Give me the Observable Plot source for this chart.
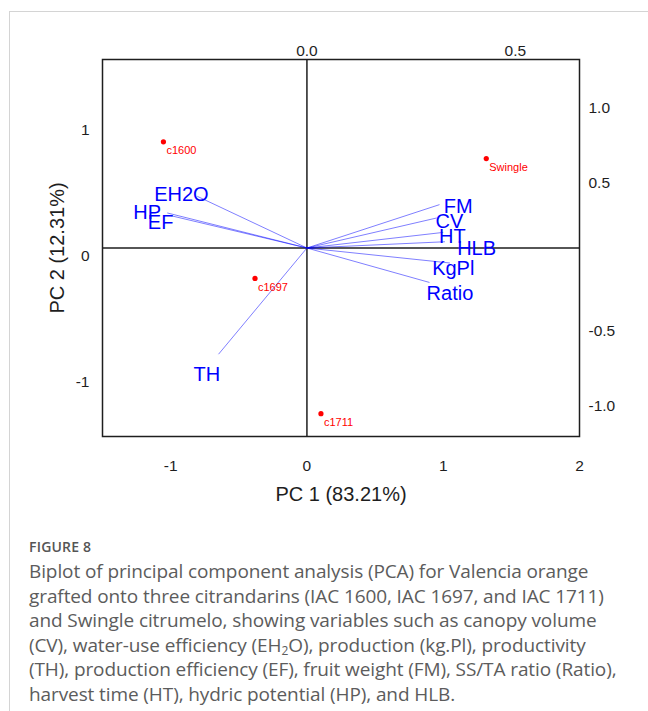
<!DOCTYPE html>
<html>
<head>
<meta charset="utf-8">
<script src="https://cdn.jsdelivr.net/npm/d3@7"></script>
<script src="https://cdn.jsdelivr.net/npm/@observablehq/plot@0.6"></script>
<style>
  html, body { margin: 0; padding: 0; background: #fff; }
  #page { position: relative; width: 648px; height: 711px; overflow: hidden; }
  #panel { position: absolute; left: 9px; top: 11px; right: -2px; bottom: -2px;
           border-left: 1px solid #d4d4d4; border-top: 1px solid #d4d4d4; }
  #chart { position: absolute; left: 0; top: 0; }
  #caption { position: absolute; left: 29px; top: 537px; width: 615px;
             font-family: "Open Sans", "Noto Sans", sans-serif; color: #5c5c5c; }
  #caption .fig { font-size: 14px; font-weight: 600; letter-spacing: 0.2px; line-height: 20px; color: #555; }
  #caption .txt { font-size: 19px; line-height: 24.5px; margin-top: 2px; white-space: nowrap; letter-spacing: -0.1px; }
  #caption sub { font-size: 12px; vertical-align: -3px; line-height: 0; }
</style>
</head>
<body>
<div id="page">
  <div id="panel"></div>
  <div id="chart"></div>
  <div id="caption">
    <div class="fig">FIGURE 8</div>
    <div class="txt">Biplot of principal component analysis (PCA) for Valencia orange<br>grafted onto three citrandarins (IAC 1600, IAC 1697, and IAC 1711)<br>and Swingle citrumelo, showing variables such as canopy volume<br>(CV), water-use efficiency (EH<sub>2</sub>O), production (kg.Pl), productivity<br>(TH), production efficiency (EF), fruit weight (FM), SS/TA ratio (Ratio),<br>harvest time (HT), hydric potential (HP), and HLB.</div>
  </div>
</div>
<script>
// ---- Data ----
const sampleNames = ["c1600", "Swingle", "c1697", "c1711"];
const pc1Scores = [-1.053, 1.316, -0.381, 0.103];
const pc2Scores = [0.845, 0.712, -0.242, -1.318];

const variableNames = ["FM", "CV", "HT", "HLB", "KgPl", "Ratio", "EH2O", "HP", "EF", "TH"];
// arrow tips, in loading units (top / right axes)
const loadingPC1 = [0.318, 0.311, 0.327, 0.331, 0.343, 0.294, -0.263, -0.335, -0.327, -0.212];
const loadingPC2 = [0.292, 0.202, 0.105, 0.042, -0.101, -0.232, 0.348, 0.236, 0.218, -0.715];
// label positions, in loading units
const labelPC1 = [0.363, 0.342, 0.349, 0.407, 0.351, 0.343, -0.301, -0.383, -0.351, -0.240];
const labelPC2 = [0.280, 0.179, 0.078, -0.007, -0.140, -0.305, 0.361, 0.239, 0.169, -0.853];

const pc1Ticks = [-1, 0, 1, 2];
const pc2Ticks = [-1, 0, 1];
const loadingTopTicks = [0.0, 0.5];
const loadingRightTicks = [-1.0, -0.5, 0.5, 1.0];

const xTitle = "PC 1 (83.21%)";
const yTitle = "PC 2 (12.31%)";

// biplot scaling between loading axes and score axes
const loadScaleX = 3.059;
const loadScaleY = 1.182;

// ---- Build tables ----
const samples = sampleNames.map((name, i) => ({name, x: pc1Scores[i], y: pc2Scores[i]}));
const variables = variableNames.map((name, i) => ({
  name,
  x2: loadingPC1[i] * loadScaleX, y2: loadingPC2[i] * loadScaleY,
  lx: labelPC1[i] * loadScaleX, ly: labelPC2[i] * loadScaleY
}));

const ink = "#1e1e1e";
const tickFont = 15.5;
const fmt1 = d => d.toFixed(1);

const chart = Plot.plot({
  width: 648,
  height: 520,
  marginLeft: 102,
  marginRight: 69,
  marginTop: 59,
  marginBottom: 84,
  style: {fontFamily: "'Liberation Sans', Arial, Helvetica, sans-serif", color: ink, background: "transparent"},
  x: {domain: [-1.5, 2], axis: null},
  y: {domain: [-1.5, 1.5], axis: null},
  marks: [
    Plot.ruleX([0], {stroke: ink, strokeWidth: 1.5}),
    Plot.ruleY([0], {stroke: ink, strokeWidth: 1.5}),
    Plot.frame({stroke: ink, strokeWidth: 1.5}),
    // score axes (bottom / left)
    Plot.text(pc1Ticks, {x: d => d, frameAnchor: "bottom", lineAnchor: "middle", textAnchor: "middle", dy: 30, fontSize: tickFont, text: d => String(d), fill: ink}),
    Plot.text(pc2Ticks, {y: d => d, frameAnchor: "left", lineAnchor: "middle", textAnchor: "end", dx: -13, dy: 8, fontSize: tickFont, text: d => String(d), fill: ink}),
    // loading axes (top / right)
    Plot.text(loadingTopTicks, {x: d => d * loadScaleX, frameAnchor: "top", lineAnchor: "middle", textAnchor: "middle", dy: -8.5, fontSize: tickFont, text: fmt1, fill: ink}),
    Plot.text(loadingRightTicks, {y: d => d * loadScaleY, frameAnchor: "right", lineAnchor: "middle", textAnchor: "start", dx: 9, dy: 9, fontSize: tickFont, text: fmt1, fill: ink}),
    Plot.link(variables, {x1: 0, y1: 0, x2: "x2", y2: "y2", stroke: "#0000ff", strokeOpacity: 0.5, strokeWidth: 1}),
    Plot.dot(samples, {x: "x", y: "y", r: 2.6, fill: "#ff0000", stroke: "none"}),
    Plot.text(samples, {x: "x", y: "y", text: "name", textAnchor: "start", dx: 3, dy: 9, fontSize: 11, fill: "#ff0000"}),
    Plot.text(variables, {x: "lx", y: "ly", text: "name", fontSize: 20, fill: "#0000ff"}),
    Plot.text([xTitle], {frameAnchor: "bottom", textAnchor: "middle", lineAnchor: "middle", dy: 58, fontSize: 20, fill: ink}),
    Plot.text([yTitle], {frameAnchor: "left", textAnchor: "middle", lineAnchor: "middle", dx: -45, rotate: -90, fontSize: 20, fill: ink})
  ]
});
document.getElementById("chart").appendChild(chart);
</script>
</body>
</html>
